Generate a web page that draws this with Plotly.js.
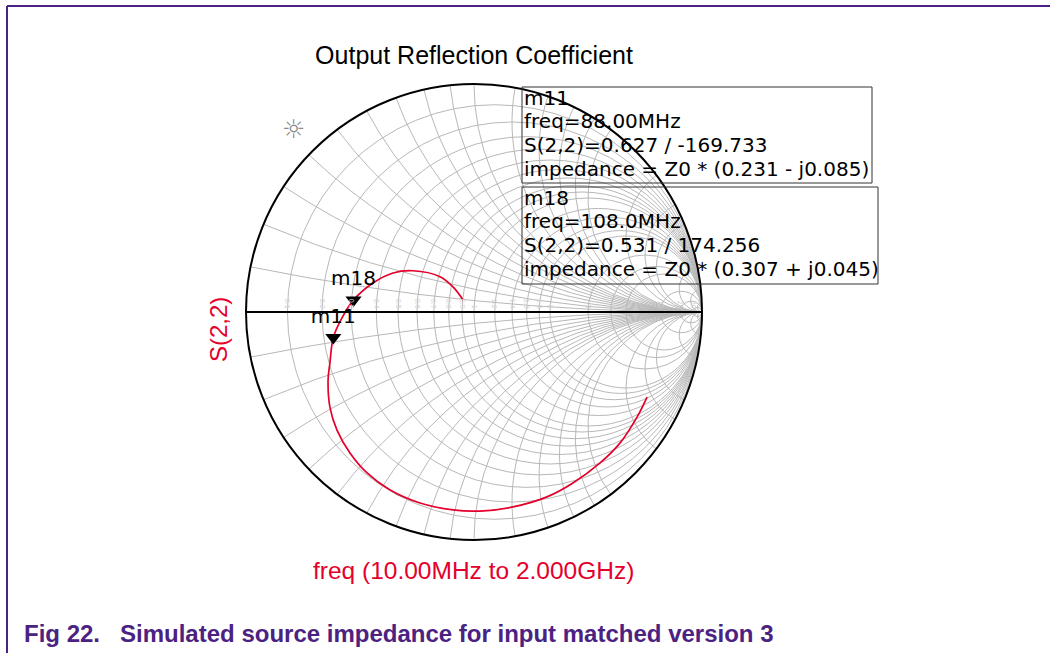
<!DOCTYPE html>
<html>
<head>
<meta charset="utf-8">
<script src="https://cdn.plot.ly/plotly-3.0.1.min.js"></script>
<style>
  html, body { margin: 0; padding: 0; background: #ffffff; }
  #chart { width: 1050px; height: 653px; }
</style>
</head>
<body>
<div id="chart"></div>
<script>
// ---- data (reflection coefficient S(2,2), 10 MHz -> 2 GHz) ----
const gammaRe = [0.759, 0.715, 0.640, 0.553, 0.434, 0.320, 0.171, 0.026, -0.092, -0.237,
                 -0.368, -0.469, -0.544, -0.601, -0.632, -0.640, -0.632, -0.617, -0.579, -0.528,
                 -0.443, -0.355, -0.268, -0.149, -0.092, -0.048];
const gammaIm = [-0.373, -0.461, -0.575, -0.662, -0.750, -0.811, -0.855, -0.873, -0.868, -0.838,
                 -0.781, -0.706, -0.618, -0.518, -0.417, -0.298, -0.224, -0.112, -0.026, 0.053,
                 0.127, 0.171, 0.181, 0.155, 0.110, 0.053];

// markers
const markerNames = ['m11', 'm18'];
const markerFreq = ['88.00MHz', '108.0MHz'];
const markerMag = ['0.627', '0.531'];
const markerAng = ['-169.733', '174.256'];
const markerZre = [0.231, 0.307];
const markerZim = [-0.085, 0.045];

// Smith chart grid values
const realTicks = [0.1, 0.2, 0.3, 0.4, 0.5, 0.6, 0.7, 0.8, 0.9, 1, 1.2, 1.4, 1.6, 1.8, 2, 3, 4, 5, 10, 20, 50];
const imagTicks = [-50, -20, -10, -5, -4, -3, -2, -1.8, -1.6, -1.4, -1.2, -1, -0.9, -0.8, -0.7, -0.6, -0.5, -0.4, -0.3, -0.2, -0.1,
                   0, 0.1, 0.2, 0.3, 0.4, 0.5, 0.6, 0.7, 0.8, 0.9, 1, 1.2, 1.4, 1.6, 1.8, 2, 3, 4, 5, 10, 20, 50];

// reflection coefficient -> normalised impedance (coordinates used by scattersmith)
function gammaToZ(gr, gi) {
  const den = (1 - gr) * (1 - gr) + gi * gi;
  return [(1 - gr * gr - gi * gi) / den, 2 * gi / den];
}
const zRe = [], zIm = [];
for (let i = 0; i < gammaRe.length; i++) {
  const z = gammaToZ(gammaRe[i], gammaIm[i]);
  zRe.push(z[0]); zIm.push(z[1]);
}

const W = 1050, H = 653;
const px = x => x / W;
const py = y => 1 - y / H;

const traces = [
  {
    type: 'scattersmith',
    real: zRe, imag: zIm,
    mode: 'lines',
    line: { color: '#e4002b', width: 1.7, shape: 'spline', smoothing: 1 },
    hoverinfo: 'skip',
    showlegend: false
  },
  {
    type: 'scattersmith',
    real: markerZre, imag: markerZim,
    mode: 'markers+text',
    text: markerNames,
    textposition: 'top center',
    textfont: { family: 'DejaVu Sans, sans-serif', size: 20, color: '#000' },
    marker: { symbol: 'triangle-down', size: 14, color: '#000' },
    hoverinfo: 'skip',
    showlegend: false
  }
];

const boxFont = { family: 'DejaVu Sans, sans-serif', size: 20, color: '#000' };
const annotations = [];
const shapes = [];

// marker readout boxes
const boxTop = [87, 187];
const boxRight = [872, 878];
const boxBottom = [183, 284];
for (let k = 0; k < markerNames.length; k++) {
  const sign = markerZim[k] < 0 ? '-' : '+';
  const lines = [
    markerNames[k],
    'freq=' + markerFreq[k],
    'S(2,2)=' + markerMag[k] + ' / ' + markerAng[k],
    'impedance = Z0 * (' + markerZre[k].toFixed(3) + ' ' + sign + ' j' + Math.abs(markerZim[k]).toFixed(3) + ')'
  ];
  shapes.push({ type: 'rect', xref: 'paper', yref: 'paper',
    x0: px(522), x1: px(boxRight[k]), y0: py(boxTop[k]), y1: py(boxBottom[k]),
    line: { color: '#333', width: 1 }, fillcolor: 'rgba(0,0,0,0)' });
  for (let j = 0; j < lines.length; j++) {
    annotations.push({ xref: 'paper', yref: 'paper', x: px(522), y: py(boxTop[k] + 11 + j * 23.5),
      xanchor: 'left', yanchor: 'middle', text: lines[j], showarrow: false, font: boxFont });
  }
}

// axis labels
annotations.push({ xref: 'paper', yref: 'paper', x: px(218), y: py(330), text: 'S(2,2)',
  textangle: -90, showarrow: false, xanchor: 'center', yanchor: 'middle',
  font: { family: 'Liberation Sans, Arial, sans-serif', size: 24, color: '#e4002b' } });
annotations.push({ xref: 'paper', yref: 'paper', x: px(473), y: py(570), text: 'freq (10.00MHz to 2.000GHz)',
  showarrow: false, xanchor: 'center', yanchor: 'middle',
  font: { family: 'Liberation Sans, Arial, sans-serif', size: 24.5, color: '#e4002b' } });
// logo
annotations.push({ xref: 'paper', yref: 'paper', x: px(293), y: py(129), text: '☼',
  showarrow: false, xanchor: 'center', yanchor: 'middle',
  font: { family: 'DejaVu Sans, sans-serif', size: 26, color: '#8a8a8a' } });
// figure caption
annotations.push({ xref: 'paper', yref: 'paper', x: px(22), y: py(633),
  text: 'Fig 22.   Simulated source impedance for input matched version 3',
  showarrow: false, xanchor: 'left', yanchor: 'middle',
  font: { family: 'Liberation Sans, Arial, sans-serif', size: 24, color: '#4b2282', weight: 'bold' } });

// page frame lines
shapes.push({ type: 'line', xref: 'paper', yref: 'paper', x0: px(7), x1: 1, y0: py(6), y1: py(6),
  line: { color: '#4b2282', width: 2 } });
shapes.push({ type: 'line', xref: 'paper', yref: 'paper', x0: px(7), x1: px(7), y0: py(6), y1: 0,
  line: { color: '#4b2282', width: 2 } });

const gridColor = '#b8b8b8';
const layout = {
  width: W, height: H,
  margin: { l: 0, r: 0, t: 0, b: 0 },
  paper_bgcolor: '#ffffff',
  showlegend: false,
  title: { text: 'Output Reflection Coefficient', x: px(474), xanchor: 'center',
    y: py(55), yanchor: 'middle', xref: 'paper', yref: 'paper',
    font: { family: 'Liberation Sans, Arial, sans-serif', size: 25, color: '#000' } },
  smith: {
    domain: { x: [px(246), px(702)], y: [py(540), py(84)] },
    bgcolor: 'rgba(0,0,0,0)',
    realaxis: {
      tickvals: realTicks, showgrid: true, gridcolor: gridColor, gridwidth: 1,
      showline: true, linecolor: '#000', linewidth: 2,
      ticks: '', showticklabels: true,
      tickfont: { family: 'Liberation Sans, Arial, sans-serif', size: 7, color: '#d0d0d0' }
    },
    imaginaryaxis: {
      tickvals: imagTicks, showgrid: true, gridcolor: gridColor, gridwidth: 1,
      showline: true, linecolor: '#000', linewidth: 2,
      ticks: '', showticklabels: false
    }
  },
  annotations: annotations,
  shapes: shapes
};

Plotly.newPlot('chart', traces, layout, { staticPlot: true, displayModeBar: false });
</script>
</body>
</html>
